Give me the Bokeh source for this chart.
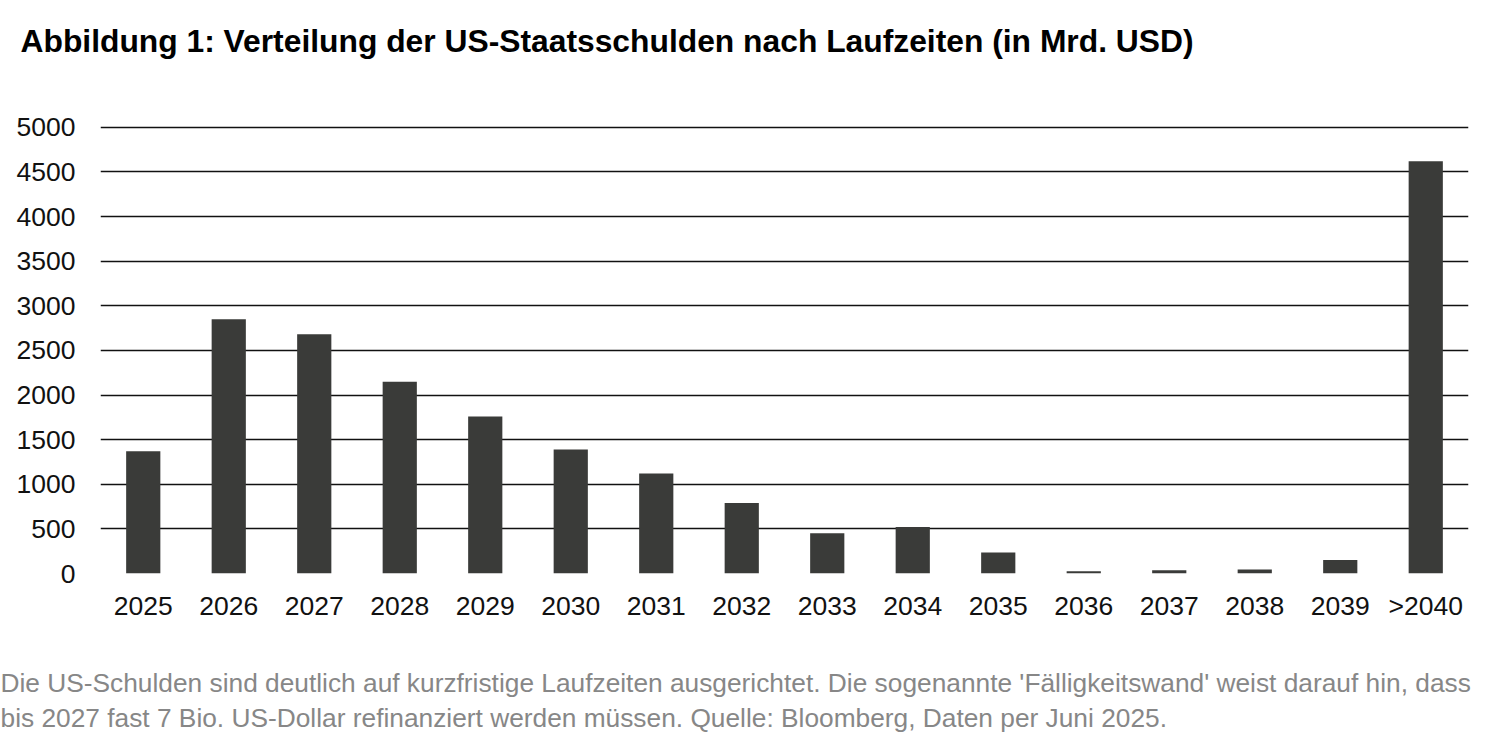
from bokeh.plotting import figure
from bokeh.models import Range1d, FixedTicker, Title, ColumnDataSource
from bokeh.embed import file_html
from bokeh.resources import INLINE

categories = ["2025", "2026", "2027", "2028", "2029", "2030", "2031", "2032",
              "2033", "2034", "2035", "2036", "2037", "2038", "2039", ">2040"]
values = [1370, 2850, 2680, 2150, 1760, 1390, 1120, 790,
          450, 520, 235, 25, 37, 45, 150, 4620]
y_ticks = [0, 500, 1000, 1500, 2000, 2500, 3000, 3500, 4000, 4500, 5000]

title_text = "Abbildung 1: Verteilung der US-Staatsschulden nach Laufzeiten (in Mrd. USD)"
caption_1 = ("Die US-Schulden sind deutlich auf kurzfristige Laufzeiten ausgerichtet. "
             "Die sogenannte 'Fälligkeitswand' weist darauf hin, dass")
caption_2 = "bis 2027 fast 7 Bio. US-Dollar refinanziert werden müssen. Quelle: Bloomberg, Daten per Juni 2025."

FONT = "Liberation Sans"

W, H = 1484, 734
p = figure(x_range=categories, y_range=Range1d(0, 5020), width=W, height=H,
           output_backend="svg", toolbar_location=None,
           min_border_left=100, min_border_right=16, min_border_top=125, min_border_bottom=161)
p.x_range.range_padding = 0
p.outline_line_color = None
p.background_fill_color = "white"
p.border_fill_color = "white"

src = ColumnDataSource(dict(cat=categories, val=values))
p.vbar(x="cat", top="val", width=0.4, source=src, fill_color="#3a3b39", line_color=None)

p.xgrid.grid_line_color = None
p.ygrid.grid_line_color = "#111111"
p.ygrid.grid_line_width = 1.6
p.yaxis.ticker = FixedTicker(ticks=y_ticks)

for ax in (p.xaxis[0], p.yaxis[0]):
    ax.axis_line_color = None
    ax.major_tick_line_color = None
    ax.minor_tick_line_color = None
    ax.major_tick_in = 0
    ax.major_tick_out = 0
    ax.major_label_text_font = FONT
    ax.major_label_text_font_size = "26.5px"
    ax.major_label_text_color = "#111111"
p.yaxis.major_label_standoff = 25
p.xaxis.major_label_standoff = 17

# main title
p.title.text = title_text
p.title.align = "left"
p.title.offset = -80
p.title.text_font = FONT
p.title.text_font_size = "31.8px"
p.title.text_font_style = "bold"
p.title.text_color = "#000000"
p.title.standoff = 0

# spacer between frame and the main title
spacer_above = Title(text=" ", text_font_size="1px", standoff=64)
p.add_layout(spacer_above, "above")

spacer_below = Title(text=" ", text_font_size="1px", standoff=40)
p.add_layout(spacer_below, "below")
cap = Title(text=caption_1 + "\n" + caption_2, align="left", offset=-100, text_font=FONT,
            text_font_size="26.3px", text_font_style="normal", text_color="#878787",
            text_line_height=1.18, standoff=0)
p.add_layout(cap, "below")

open("out.html", "w").write(file_html(p, INLINE))
